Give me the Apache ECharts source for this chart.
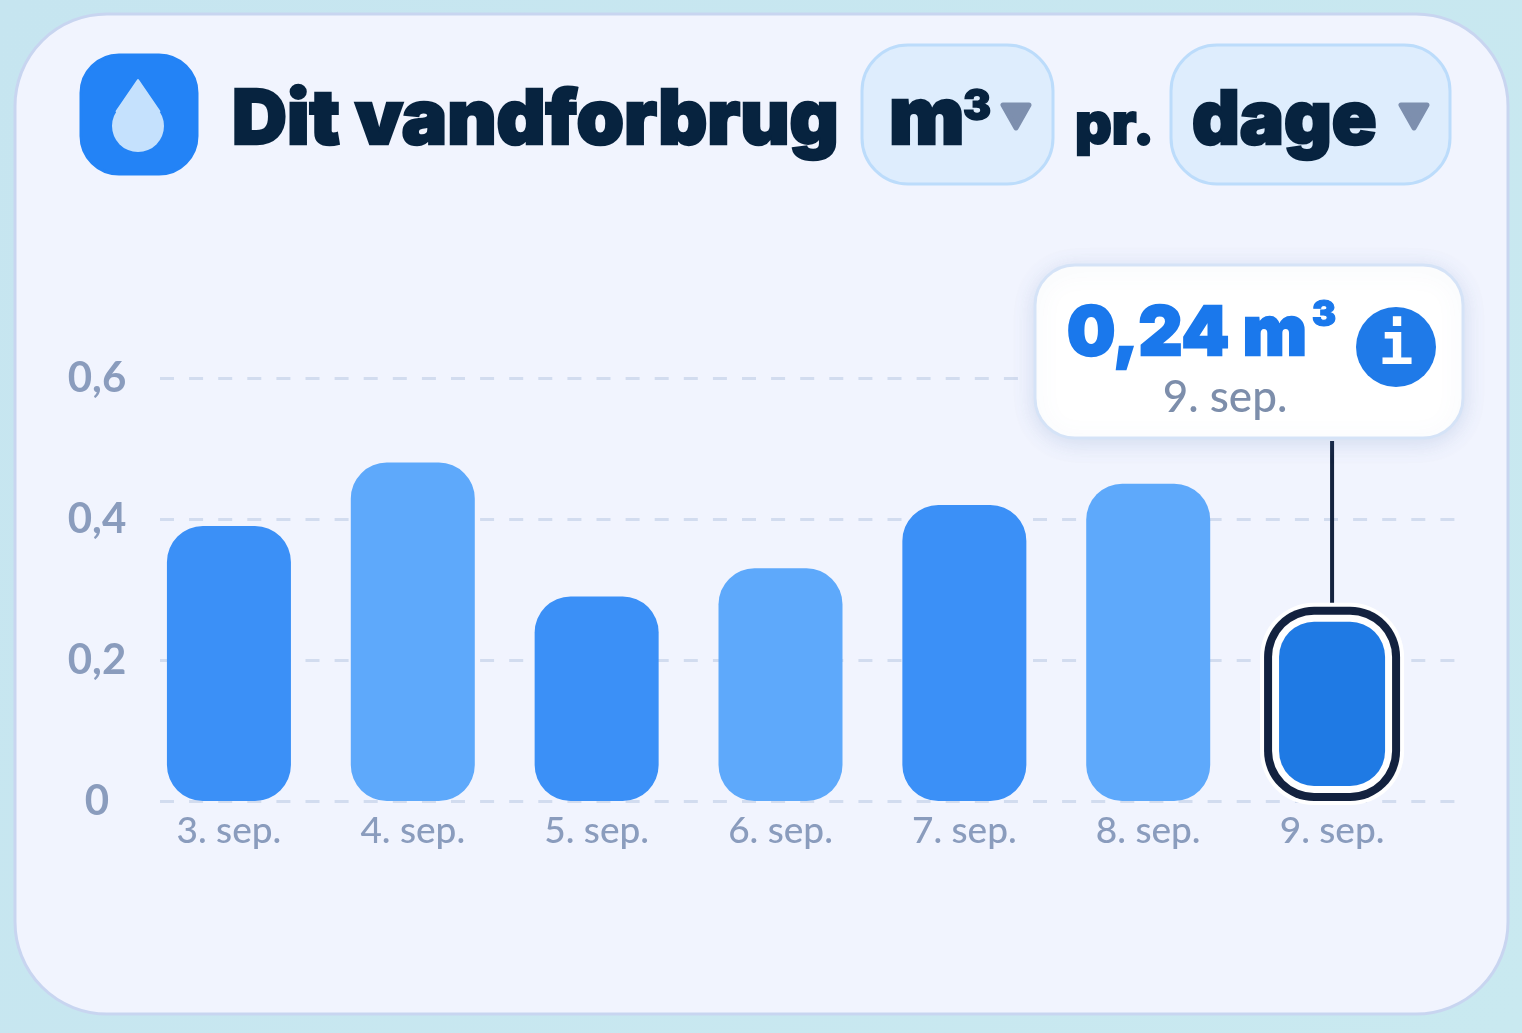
<!DOCTYPE html>
<html lang="da">
<head>
    <meta charset="UTF-8" />
    <title>Dit vandforbrug</title>
    <script src="https://cdn.jsdelivr.net/npm/echarts@6/dist/echarts.min.js"></script>
    <style>
        html, body { margin: 0; padding: 0; }
        #main { width: 1522px; height: 1033px; }
    </style>
</head>
<body>
    <div id="main"></div>
    <script type="text/javascript">
        // chart data
        const days = ["3. sep.", "4. sep.", "5. sep.", "6. sep.", "7. sep.", "8. sep.", "9. sep."];
        const usage = [0.39, 0.48, 0.29, 0.33, 0.42, 0.45, 0.24];
        const yTicks = [0, 0.2, 0.4, 0.6];
        const selectedDay = 6;

        const titleFont = "Inter";
        const dark = "#07233f";
        const grey = "#8a9cbd";
        const cardColor = "#f1f4fe";
        const barColors = ["#3b90f7", "#5ea9fb", "#3b90f7", "#5ea9fb", "#3b90f7", "#5ea9fb", "#1f7ae4"];

        // y is the baseline: text is placed by its top, so step back by the ascent
        function heavyText(x, y, text, size, color) {
            return {
                type: "text", x: x, y: y - size * 0.8, z: 100,
                style: {
                    text: text, fill: color, stroke: color, lineWidth: size / 30, lineJoin: "round",
                    font: "900 " + size + "px " + titleFont,
                    textAlign: "left", textVerticalAlign: "top"
                }
            };
        }

        function pill(x, y, w, h, r, fill, stroke, extra) {
            return Object.assign({
                type: "rect", z: 100,
                shape: { x: x, y: y, width: w, height: h, r: r },
                style: { fill: fill, stroke: stroke, lineWidth: 3 }
            }, extra || {});
        }

        function arrow(x) {
            return {
                type: "polygon", z: 100,
                shape: { points: [[x - 13, 105], [x + 13, 105], [x, 128]] },
                style: { fill: "#7d8fae", stroke: "#7d8fae", lineWidth: 5, lineJoin: "round" }
            };
        }

        // selected bar: dark frame + white gap around the blue bar, and the line up to the tooltip
        function renderSelected(params, api) {
            const top = api.coord([api.value(0), api.value(1)]);
            const base = api.coord([api.value(0), 0]);
            const x = top[0];
            const layer = (halfW, t, b, r, fill) => ({
                type: "rect",
                shape: { x: x - halfW, y: t, width: halfW * 2, height: b - t, r: r },
                style: { fill: fill }
            });
            return {
                type: "group",
                children: [
                    { type: "line", shape: { x1: x, y1: 441, x2: x, y2: top[1] - 28 }, style: { stroke: "#14233f", lineWidth: 4 } },
                    layer(72, top[1] - 29, base[1] + 4, 54, "#ffffff"),
                    layer(68, top[1] - 25, base[1], 50, "#13223f"),
                    layer(60, top[1] - 17, base[1] - 8, 42, "#ffffff"),
                    layer(53, top[1] - 10, base[1] - 15, 35, barColors[selectedDay])
                ]
            };
        }

        const options = {
            backgroundColor: {
                type: "linear", x: 0, y: 0, x2: 1, y2: 1,
                colorStops: [{ offset: 0, color: "#c6e5f0" }, { offset: 1, color: "#c9e9f0" }]
            },
            animation: false,
            grid: [
                // gridlines and y labels run wider than the bars
                { left: 160, width: 1296, top: 378, height: 423 },
                { left: 137, width: 1287, top: 378, height: 423 }
            ],
            xAxis: [
                { gridIndex: 0, type: "category", data: days, show: false },
                {
                    gridIndex: 1, type: "category", data: days,
                    axisLine: { show: false }, axisTick: { show: false },
                    axisLabel: { color: grey, fontFamily: "Lato", fontWeight: 500, fontSize: 37, margin: 12 }
                }
            ],
            yAxis: [
                {
                    gridIndex: 0, type: "value", min: 0, max: 0.6, interval: 0.2,
                    axisLine: { show: false }, axisTick: { show: false },
                    axisLabel: {
                        color: grey, fontFamily: "Lato", fontWeight: 700, fontSize: 42, margin: 63, align: "center",
                        formatter: (v) => yTicks.includes(+v.toFixed(1)) ? String(+v.toFixed(1)).replace(".", ",") : ""
                    },
                    splitLine: { lineStyle: { color: "#d2dcef", width: 3, type: [14, 15.1] } }
                },
                { gridIndex: 1, type: "value", min: 0, max: 0.6, interval: 0.2, show: false }
            ],
            series: [
                {
                    type: "bar", xAxisIndex: 1, yAxisIndex: 1, barWidth: 124,
                    data: usage.map((v, i) => ({ value: v, itemStyle: { color: barColors[i], borderRadius: 36 } }))
                },
                {
                    type: "custom", xAxisIndex: 1, yAxisIndex: 1, z: 5, clip: false,
                    encode: { x: 0, y: 1 },
                    data: [[selectedDay, usage[selectedDay]]],
                    renderItem: renderSelected
                }
            ],
            graphic: [
                // card
                pill(15, 14, 1493, 1000, 92, cardColor, "#c8d5f0", { z: -10 }),
                // icon
                pill(81, 55, 116, 119, 38, "#2383f6", "#2383f6"),
                { type: "circle", z: 101, shape: { cx: 138, cy: 126, r: 26 }, style: { fill: "#c5e1fd" } },
                {
                    type: "polygon", z: 101,
                    shape: { points: [[138, 80], [116.6, 111.3], [159.4, 111.3]] },
                    style: { fill: "#c5e1fd", stroke: "#c5e1fd", lineWidth: 2, lineJoin: "round" }
                },
                heavyText(232, 144, "Dit vandforbrug", 76, dark),
                // selectors
                pill(862, 45, 191, 139, 46, "#deedfd", "#bcdcfb"),
                heavyText(889, 144, "m", 80, dark),
                heavyText(963, 120, "3", 42, dark),
                arrow(1016),
                heavyText(1075, 144, "pr.", 57, dark),
                pill(1171, 45, 279, 139, 46, "#deedfd", "#bcdcfb"),
                heavyText(1192, 144, "dage", 74, dark),
                arrow(1414),
                // tooltip, with a gap in the gridline beside it
                pill(1021, 370, 14, 18, 0, cardColor, null, { z: 99, style: { fill: cardColor } }),
                pill(1035, 265, 428, 173, 40, "#ffffff", "#d5e3f7", {
                    style: { fill: "#ffffff", stroke: "#d5e3f7", lineWidth: 3, shadowBlur: 22, shadowColor: "rgba(90,120,180,0.18)", shadowOffsetY: 4 }
                }),
                heavyText(1067, 355, "0,24 m", 68, "#1a78ec"),
                heavyText(1312, 326, "3", 36, "#1a78ec"),
                {
                    type: "text", x: 1225, y: 398, z: 100,
                    style: { text: "9. sep.", fill: "#7d8eab", font: "500 44px Lato", textAlign: "center", textVerticalAlign: "middle" }
                },
                { type: "circle", z: 100, shape: { cx: 1396, cy: 347, r: 40 }, style: { fill: "#1f7ae8" } },
                {
                    type: "text", x: 1396, y: 349, z: 101,
                    style: { text: "i", fill: "#ffffff", font: "900 58px 'DejaVu Sans Mono'", textAlign: "center", textVerticalAlign: "middle" }
                }
            ]
        };

        const myChart = echarts.init(document.getElementById("main"));
        myChart.setOption(options);
    </script>
</body>
</html>
